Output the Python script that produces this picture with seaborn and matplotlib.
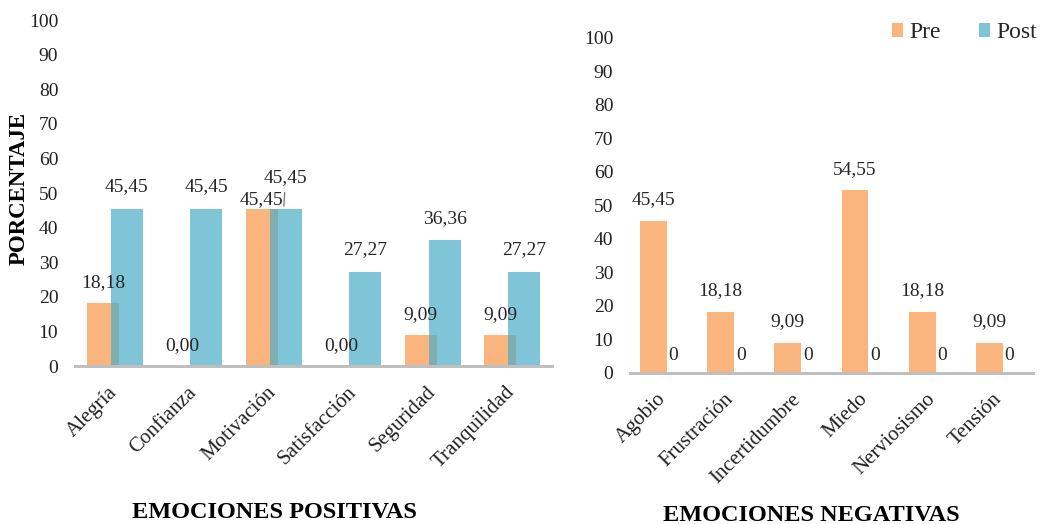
import numpy as np
import pandas as pd
import matplotlib
matplotlib.use("Agg")
import matplotlib.pyplot as plt
import seaborn as sns
from matplotlib.patches import Patch

# ---- data ----
pos_categories = ["Alegría", "Confianza", "Motivación", "Satisfacción", "Seguridad", "Tranquilidad"]
pos_pre = [18.18, 0.00, 45.45, 0.00, 9.09, 9.09]
pos_post = [45.45, 45.45, 45.45, 27.27, 36.36, 27.27]

neg_categories = ["Agobio", "Frustración", "Incertidumbre", "Miedo", "Nerviosismo", "Tensión"]
neg_pre = [45.45, 18.18, 9.09, 54.55, 18.18, 9.09]
neg_post = [0, 0, 0, 0, 0, 0]

series_names = ["Pre", "Post"]
y_ticks = list(range(0, 101, 10))

# ---- style ----
sns.set_theme(style="white")
plt.rcParams["font.family"] = ["Liberation Serif", "DejaVu Serif"]

PRE_COLOR = "#F79646"
POST_COLOR = "#4BACC6"
ALPHA = 0.7
AXIS_GRAY = "#BFBFBF"
OFF = 0.15
W = 0.40

fig = plt.figure(figsize=(10.44, 5.24), dpi=100)
ax1 = fig.add_axes([0.0718, 0.3015, 0.4569, 0.6603])
ax2 = fig.add_axes([0.6034, 0.2882, 0.3861, 0.6393])


def fmt2(v):
    return f"{v:.2f}".replace(".", ",")


def draw_panel(ax, cats, pre, post):
    idx = np.arange(len(cats))
    sns.barplot(x=idx - OFF, y=pre, native_scale=True, width=W, color=PRE_COLOR,
                saturation=1, alpha=ALPHA, errorbar=None, ax=ax, linewidth=0)
    sns.barplot(x=idx + OFF, y=post, native_scale=True, width=W, color=POST_COLOR,
                saturation=1, alpha=ALPHA, errorbar=None, ax=ax, linewidth=0)
    ax.set_xlim(-0.5, len(cats) - 0.5)
    ax.set_ylim(0, 100)
    ax.set_yticks(y_ticks)
    ax.set_xticks(idx)
    ax.set_xticklabels(cats, rotation=45, ha="right", va="center", rotation_mode="anchor")
    ax.tick_params(axis="both", length=0, colors="#222222")
    ax.tick_params(axis="y", pad=12, labelsize=14)
    ax.tick_params(axis="x", pad=17, labelsize=15)
    for s in ["top", "right", "left"]:
        ax.spines[s].set_visible(False)
    ax.spines["bottom"].set_color(AXIS_GRAY)
    ax.spines["bottom"].set_linewidth(2.2)
    ax.grid(False)
    ax.set_ylabel("")
    return idx


# left panel
idx1 = draw_panel(ax1, pos_categories, pos_pre, pos_post)
c_pre, c_post = ax1.containers[0], ax1.containers[1]
special = 2  # Motivación labels are displaced (leader line on Post)
pre_labels = [fmt2(v) if i != special else "" for i, v in enumerate(pos_pre)]
post_labels = [fmt2(v) if i != special else "" for i, v in enumerate(pos_post)]
ax1.bar_label(c_pre, labels=pre_labels, padding=8.5, fontsize=14)
ax1.bar_label(c_post, labels=post_labels, padding=9.5, fontsize=14)
ax1.annotate(fmt2(pos_pre[special]), xy=(idx1[special] - OFF, pos_pre[special]),
             xytext=(0, 0.5), textcoords="offset points", ha="center", va="bottom",
             fontsize=14)
ax1.annotate(fmt2(pos_post[special]), xy=(idx1[special] + OFF - 0.025, pos_post[special]),
             xytext=(1.5, 16), textcoords="offset points", ha="center", va="bottom",
             fontsize=14,
             arrowprops=dict(arrowstyle="-", color="#7F7F7F", lw=1.0, shrinkA=2, shrinkB=2))

ax1.set_xlabel("EMOCIONES POSITIVAS", fontsize=17.5, fontweight="bold", color="black")
ax1.xaxis.set_label_coords(0.419, -0.422)
ax1.xaxis.label.set_va("center")
ax1.set_ylabel("PORCENTAJE", fontsize=16.5, fontweight="bold", color="black")
ax1.yaxis.set_label_coords(-0.117, 0.514)
ax1.yaxis.label.set_va("center")

# right panel
idx2 = draw_panel(ax2, neg_categories, neg_pre, neg_post)
ax2.bar_label(ax2.containers[0], labels=[fmt2(v) for v in neg_pre], padding=9, fontsize=14)
ax2.bar_label(ax2.containers[1], labels=[f"{v:g}" for v in neg_post], padding=6.5, fontsize=14)
ax2.set_xlabel("EMOCIONES NEGATIVAS", fontsize=17.5, fontweight="bold", color="black")
ax2.xaxis.set_label_coords(0.449, -0.424)
ax2.xaxis.label.set_va("center")

handles = [Patch(facecolor=PRE_COLOR, alpha=ALPHA, edgecolor="none"),
           Patch(facecolor=POST_COLOR, alpha=ALPHA, edgecolor="none")]
fig.legend(handles, series_names, loc="center right",
           bbox_to_anchor=(1037 / 1044, 1 - 33 / 524), bbox_transform=fig.transFigure,
           ncol=2, frameon=False, fontsize=17, handlelength=0.5, handleheight=0.5,
           handletextpad=0.25, columnspacing=1.6, borderpad=0, borderaxespad=0)

fig.savefig("out.png", dpi=100)
